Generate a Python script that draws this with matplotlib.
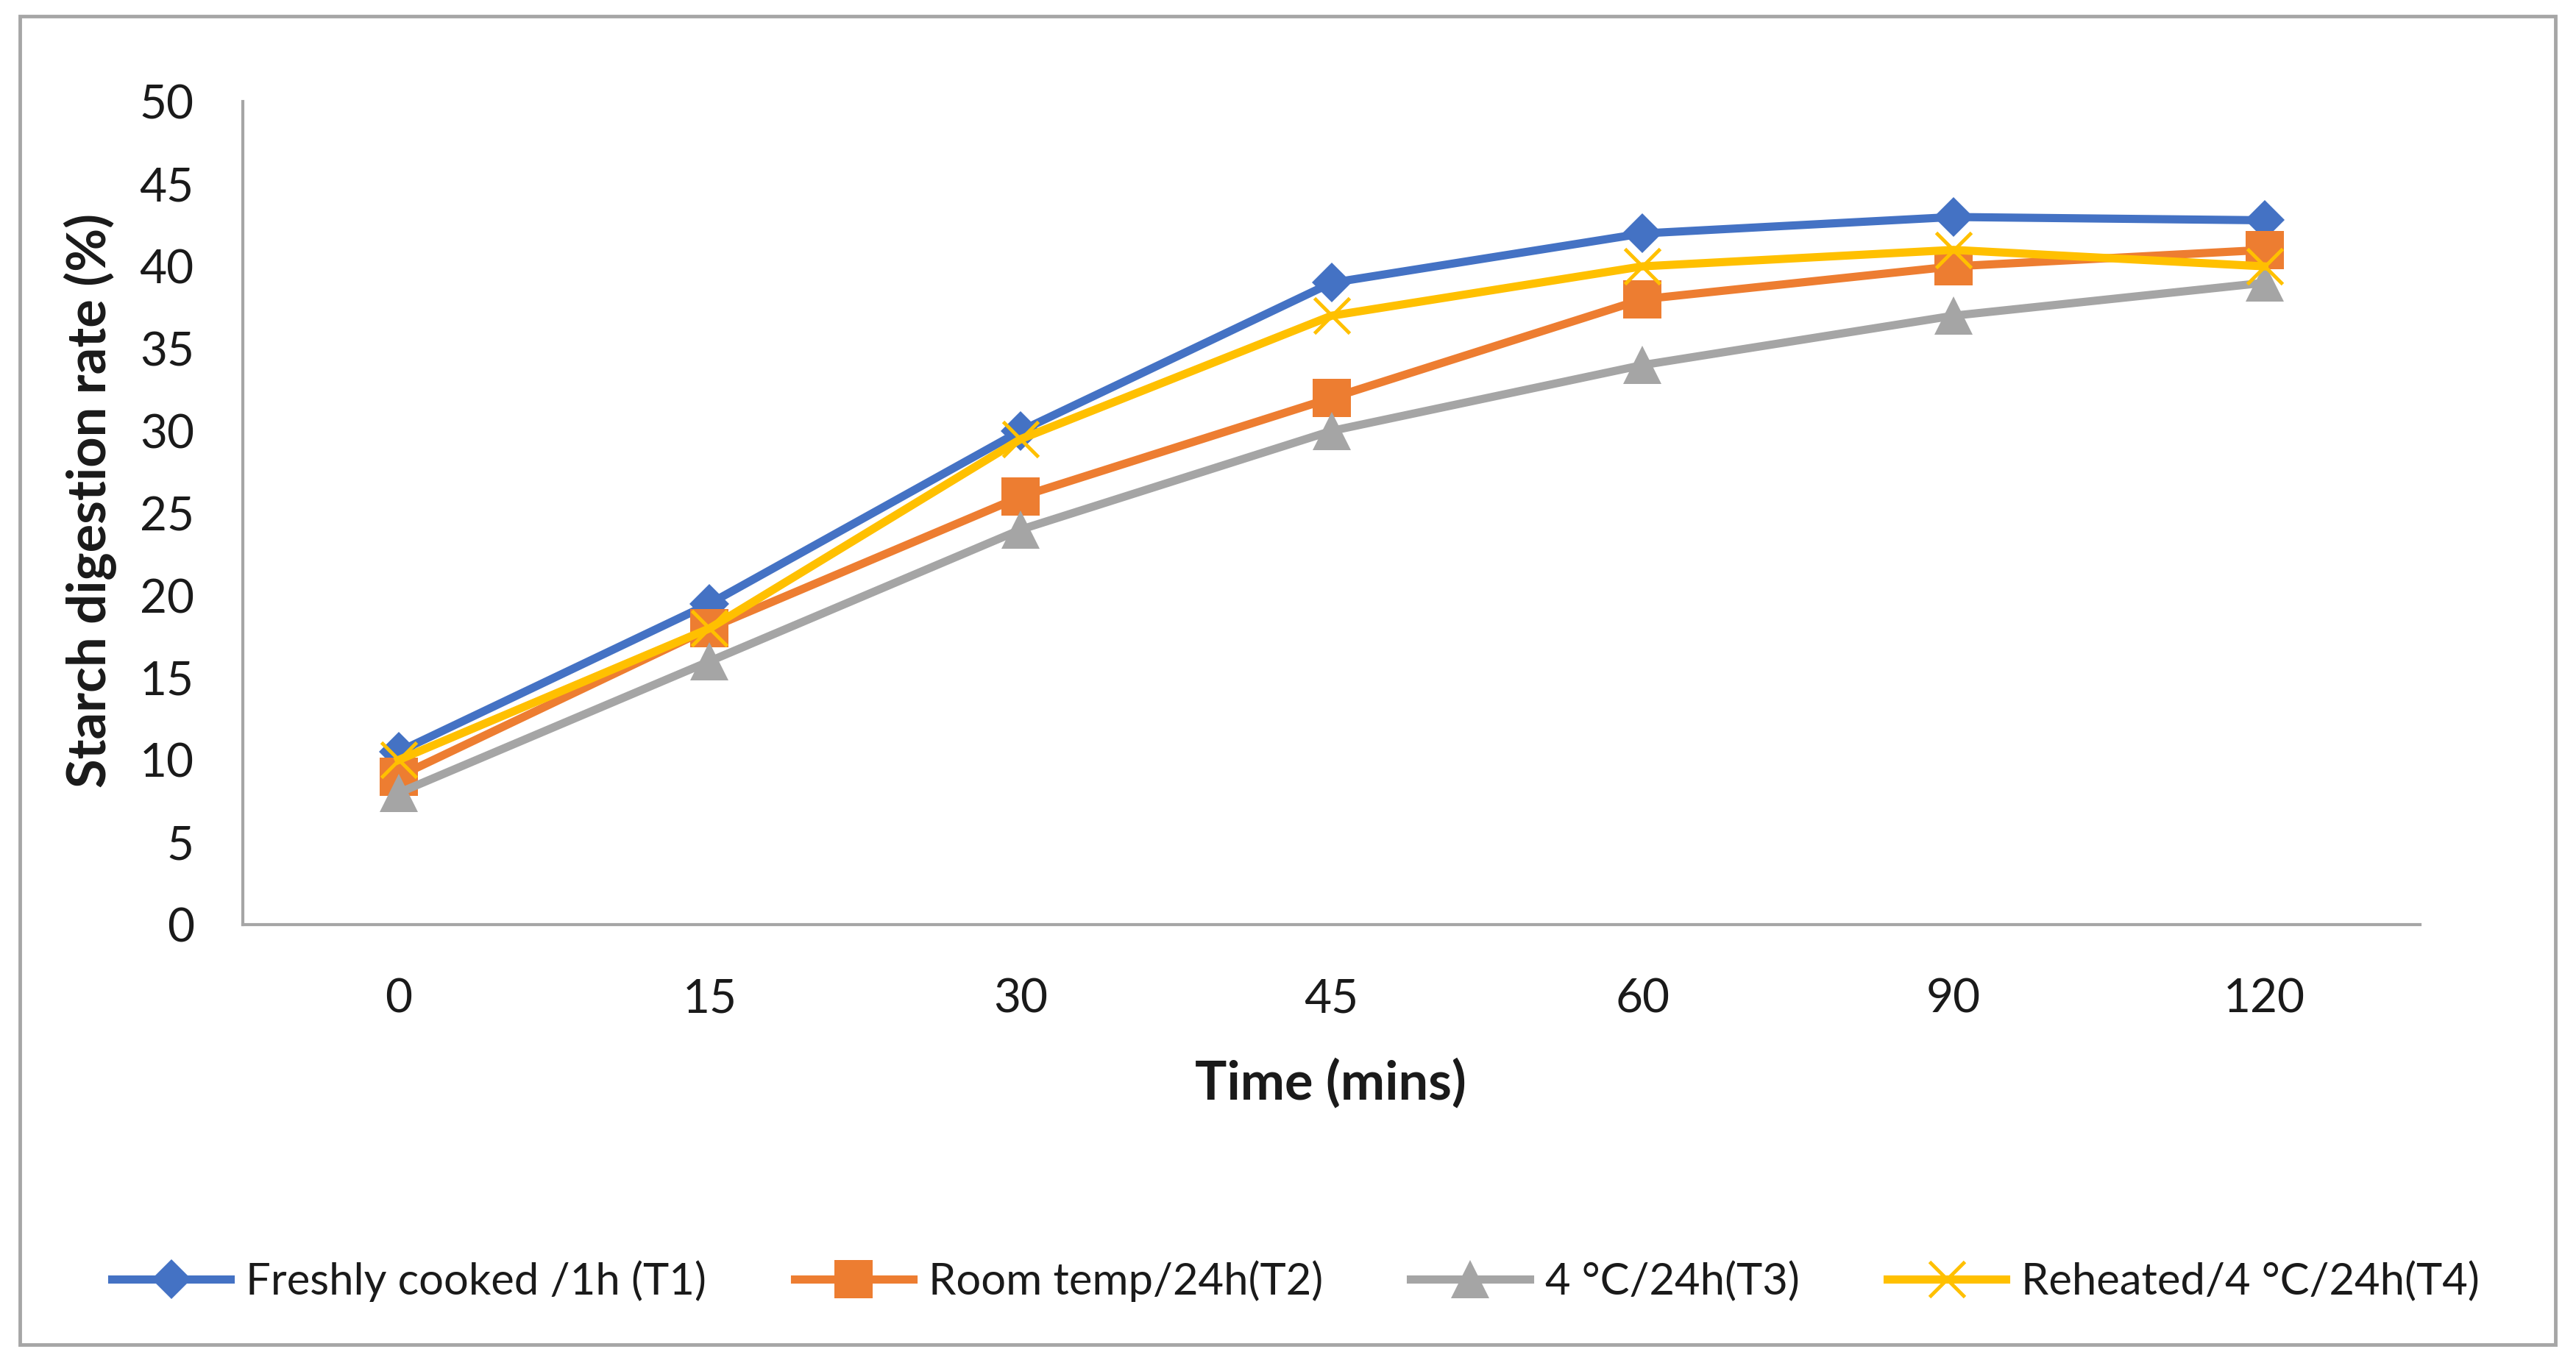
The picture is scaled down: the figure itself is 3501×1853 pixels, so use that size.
import matplotlib
matplotlib.use("Agg")
from matplotlib import pyplot as plt
from matplotlib.patches import Rectangle

# data
times = ["0", "15", "30", "45", "60", "90", "120"]
t1 = [10.5, 19.5, 30.0, 39.0, 42.0, 43.0, 42.8]
t2 = [9.0, 18.0, 26.0, 32.0, 38.0, 40.0, 41.0]
t3 = [8.0, 16.0, 24.0, 30.0, 34.0, 37.0, 39.0]
t4 = [10.0, 18.0, 29.5, 37.0, 40.0, 41.0, 40.0]
names = ["Freshly cooked /1h (T1)", "Room temp/24h(T2)", "4 °C/24h(T3)", "Reheated/4 °C/24h(T4)"]
yticks = [0, 5, 10, 15, 20, 25, 30, 35, 40, 45, 50]

plt.rcParams['font.family'] = ['Lato', 'DejaVu Sans']

fig = plt.figure(figsize=(35.01, 18.53), dpi=100)
ax = fig.add_axes([0.0944, 0.3217, 0.845, 0.6036])

x = list(range(len(times)))
styles = [
    ("#4472C4", "D", 27, 0),
    ("#ED7D31", "s", 38, 0),
    ("#A5A5A5", "^", 38, 0),
    ("#FFC000", "x", 34, 3.5),
]
for i, (vals, name, st) in enumerate(zip([t1, t2, t3, t4], names, styles)):
    color, mk, ms, mew = st
    ax.plot(x, vals, color=color, lw=8, marker=mk, ms=ms,
            markeredgewidth=mew, markeredgecolor=color, markerfacecolor=color,
            label=name, zorder=3 + i, solid_joinstyle="round")

ax.set_xlim(-0.5, len(times) - 0.5)
ax.set_ylim(0, 50)
ax.set_xticks(x)
ax.set_xticklabels(times)
ax.set_yticks(yticks)
ax.tick_params(axis="both", length=0, labelsize=46, colors="#1a1a1a")
ax.tick_params(axis="y", pad=48)
ax.tick_params(axis="x", pad=52)
for s in ["top", "right"]:
    ax.spines[s].set_visible(False)
for s in ["left", "bottom"]:
    ax.spines[s].set_color("#a6a6a6")
    ax.spines[s].set_linewidth(3)

fig.text(0.5166, 0.205, "Time (mins)", ha="center", va="center",
         fontsize=52, fontweight="bold", color="#1a1a1a")
fig.text(0.035, 0.6325, "Starch digestion rate (%)", ha="center", va="center",
         rotation=90, fontsize=52, fontweight="bold", color="#1a1a1a")

fig.legend(loc="center", bbox_to_anchor=(0.503, 0.06), ncol=4, frameon=False,
           fontsize=43, handlelength=2.7, handletextpad=0.35, columnspacing=2.0,
           labelcolor="#1a1a1a")

fig.patches.append(Rectangle((0.0077, 0.0133), 0.9843, 0.9747, transform=fig.transFigure,
                             fill=False, edgecolor="#a6a6a6", linewidth=3.5))

plt.savefig("out.png", dpi=100)
